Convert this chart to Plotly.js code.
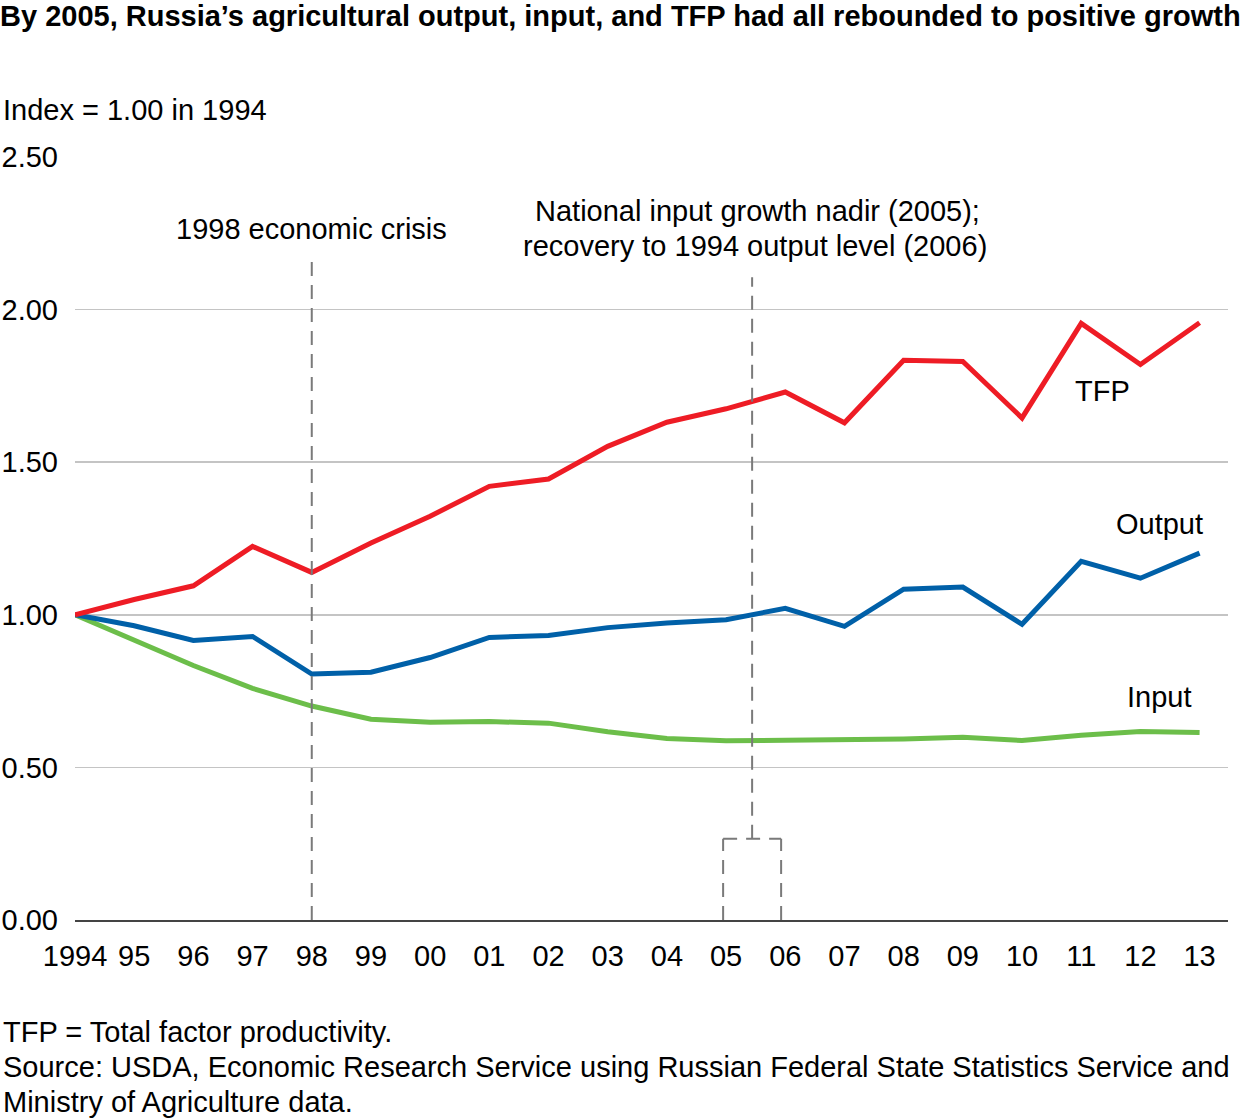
<!DOCTYPE html>
<html>
<head>
<meta charset="utf-8">
<script src="https://cdn.plot.ly/plotly-3.0.1.min.js"></script>
<style>html,body{margin:0;padding:0;background:#fff;}#chart{width:1250px;height:1118px;}</style>
</head>
<body>
<div id="chart"></div>
<script>
const years = [1994,1995,1996,1997,1998,1999,2000,2001,2002,2003,2004,2005,2006,2007,2008,2009,2010,2011,2012,2013];
const yearLabels = ['1994','95','96','97','98','99','00','01','02','03','04','05','06','07','08','09','10','11','12','13'];
const tfp = [1.00,1.05,1.095,1.224,1.139,1.235,1.323,1.421,1.445,1.552,1.631,1.675,1.730,1.629,1.834,1.830,1.645,1.955,1.820,1.957];
const output = [1.00,0.964,0.916,0.929,0.806,0.812,0.860,0.926,0.932,0.958,0.973,0.984,1.021,0.962,1.084,1.091,0.969,1.175,1.120,1.202];
const input = [1.00,0.918,0.834,0.759,0.701,0.658,0.648,0.650,0.645,0.617,0.595,0.587,0.589,0.590,0.593,0.599,0.588,0.605,0.618,0.614];
const yTicks = [0, 0.5, 1.0, 1.5, 2.0, 2.5];
const yTickLabels = ['0.00','0.50','1.00','1.50','2.00','2.50'];

const FONT = '"Liberation Sans", Arial, Helvetica, sans-serif';
const FS = 29;
const dash = {color:'#7a7a7a', width:2, dash:'14px,9px'};

const traces = [
  {x: years, y: input, type:'scatter', mode:'lines', line:{color:'#6CBE4A', width:5}, name:'Input'},
  {x: years, y: output, type:'scatter', mode:'lines', line:{color:'#0060A8', width:5}, name:'Output'},
  {x: years, y: tfp, type:'scatter', mode:'lines', line:{color:'#EE1C25', width:5}, name:'TFP'}
];

const layout = {
  width:1250, height:1118,
  margin:{l:75, r:22, t:157, b:198},
  paper_bgcolor:'#fff', plot_bgcolor:'#fff',
  showlegend:false,
  font:{family:FONT, size:FS, color:'#000'},
  title:{text:'<b>By 2005, Russia’s agricultural output, input, and TFP had all rebounded to positive growth</b>',
         x:0, xanchor:'left', xref:'container', y:1-16/1118, yanchor:'middle', yref:'container',
         font:{family:FONT, size:29, color:'#000'}},
  xaxis:{range:[1994, 2013.48], tickvals:years, ticktext:yearLabels, showgrid:false, zeroline:false,
         showline:true, linecolor:'#444', linewidth:2, ticks:'', ticklabelstandoff:9,
         tickfont:{family:FONT, size:FS, color:'#000'}, fixedrange:true},
  yaxis:{range:[0, 2.5], tickvals:yTicks, ticktext:yTickLabels, showgrid:true, gridcolor:'#c4c4c4', gridwidth:1.5,
         zeroline:false, showline:false, ticks:'', ticklabelstandoff:16,
         tickfont:{family:FONT, size:FS, color:'#000'}, fixedrange:true},
  shapes:[
    {type:'line', xref:'x', yref:'y', x0:1998, x1:1998, y0:0, y1:2.158, line:dash},
    {type:'line', xref:'x', yref:'y', x0:2005.44, x1:2005.44, y0:0.266, y1:2.106, line:dash},
    {type:'line', xref:'x', yref:'y', x0:2004.95, x1:2005.93, y0:0.266, y1:0.266, line:dash},
    {type:'line', xref:'x', yref:'y', x0:2004.95, x1:2004.95, y0:0, y1:0.266, line:dash},
    {type:'line', xref:'x', yref:'y', x0:2005.93, x1:2005.93, y0:0, y1:0.266, line:dash}
  ],
  annotations:[
    {text:'Index = 1.00 in 1994', xref:'paper', yref:'paper', x:-0.0642, y:(920-110)/763, xanchor:'left', yanchor:'middle', showarrow:false, font:{size:FS}},
    {text:'1998 economic crisis', xref:'x', yref:'y', x:1998, y:2.263, xanchor:'center', yanchor:'middle', showarrow:false, font:{size:FS}},
    {text:'National input growth nadir (2005);', xref:'x', yref:'y', x:2005.53, y:2.322, xanchor:'center', yanchor:'middle', showarrow:false, font:{size:FS}},
    {text:'recovery to 1994 output level (2006)', xref:'x', yref:'y', x:2005.49, y:2.208, xanchor:'center', yanchor:'middle', showarrow:false, font:{size:FS}},
    {text:'TFP', xref:'x', yref:'y', x:2011.36, y:1.732, xanchor:'center', yanchor:'middle', showarrow:false, font:{size:FS}},
    {text:'Output', xref:'x', yref:'y', x:2012.33, y:1.299, xanchor:'center', yanchor:'middle', showarrow:false, font:{size:FS}},
    {text:'Input', xref:'x', yref:'y', x:2012.33, y:0.731, xanchor:'center', yanchor:'middle', showarrow:false, font:{size:FS}},
    {text:'TFP = Total factor productivity.', xref:'paper', yref:'paper', x:-0.0642, y:(920-1032)/763, xanchor:'left', yanchor:'middle', showarrow:false, font:{size:FS}},
    {text:'Source: USDA, Economic Research Service using Russian Federal State Statistics Service and', xref:'paper', yref:'paper', x:-0.0642, y:(920-1067)/763, xanchor:'left', yanchor:'middle', showarrow:false, font:{size:FS}},
    {text:'Ministry of Agriculture data.', xref:'paper', yref:'paper', x:-0.0642, y:(920-1102)/763, xanchor:'left', yanchor:'middle', showarrow:false, font:{size:FS}}
  ]
};

Plotly.newPlot('chart', traces, layout, {displayModeBar:false, staticPlot:true});
</script>
</body>
</html>
